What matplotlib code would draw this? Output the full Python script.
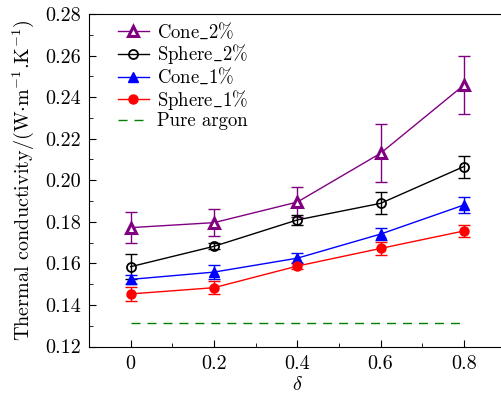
import matplotlib
matplotlib.use("Agg")
import matplotlib.pyplot as plt
from matplotlib.ticker import MultipleLocator, FormatStrFormatter

plt.rcParams["font.family"] = ["cmr10", "DejaVu Serif"]
plt.rcParams["mathtext.fontset"] = "cm"
plt.rcParams["axes.formatter.use_mathtext"] = True

delta = [0, 0.2, 0.4, 0.6, 0.8]

cone2 = [0.1772, 0.1796, 0.1895, 0.2130, 0.2458]
cone2_err = [0.0074, 0.0066, 0.0071, 0.0140, 0.0141]
sphere2 = [0.1584, 0.1682, 0.1809, 0.1889, 0.2066]
sphere2_err = [0.0060, 0.0015, 0.0023, 0.0053, 0.0053]
cone1 = [0.1523, 0.1558, 0.1625, 0.1741, 0.1881]
cone1_err = [0.0020, 0.0033, 0.0024, 0.0030, 0.0037]
sphere1 = [0.1453, 0.1483, 0.1587, 0.1672, 0.1756]
sphere1_err = [0.0033, 0.0030, 0.0015, 0.0033, 0.0030]
argon = [0.1311] * 5

labels = [r"Cone$\_$2%", r"Sphere$\_$2%", r"Cone$\_$1%", r"Sphere$\_$1%", "Pure argon"]

fig = plt.figure(figsize=(5.02, 3.99), dpi=100)
ax = fig.add_axes([89 / 502, 1 - 346.5 / 399, (505.6 - 89) / 502, (346.5 - 14) / 399])

eb = dict(capsize=4.5, elinewidth=1.0, capthick=1.0, lw=1.0)
h1 = ax.errorbar(delta, cone2, yerr=cone2_err, color="purple", marker="^", ms=6.5,
                 mfc="white", mec="purple", mew=2.2, **eb)
h2 = ax.errorbar(delta, sphere2, yerr=sphere2_err, color="black", marker="o", ms=6.5,
                 mfc="none", mec="black", mew=1.3, **eb)
h3 = ax.errorbar(delta, cone1, yerr=cone1_err, color="blue", marker="^", ms=7, **eb)
h4 = ax.errorbar(delta, sphere1, yerr=sphere1_err, color="red", marker="o", ms=6.5, **eb)
h5, = ax.plot(delta, argon, color="green", ls=(0, (6.5, 5)), lw=1.0)
for h in (h1, h2, h3, h4):
    for cap in h[1]:
        cap.set_markeredgewidth(1.0)

ax.set_xlim(-0.1, 0.9)
ax.set_ylim(0.12, 0.28)
ax.xaxis.set_minor_locator(MultipleLocator(0.1))
ax.yaxis.set_major_locator(MultipleLocator(0.02))
ax.yaxis.set_minor_locator(MultipleLocator(0.01))
ax.set_xticks(delta)
ax.set_xticklabels(["0", "0.2", "0.4", "0.6", "0.8"])
ax.yaxis.set_major_formatter(FormatStrFormatter("%.2f"))
ax.tick_params(which="both", direction="in", labelsize=14.5)
ax.tick_params(which="major", length=5, pad=6)
ax.tick_params(which="minor", length=3)
ax.spines["right"].set_visible(False)

ax.set_xlabel(r"$\delta$", fontsize=14.5, labelpad=2)
ax.set_ylabel(r"Thermal conductivity/(W$\cdot$m$^{-1}$.K$^{-1}$)", fontsize=14.5, labelpad=6)

ax.legend([h1[0], h2[0], h3[0], h4[0], h5], labels, loc="upper left",
          bbox_to_anchor=(0.0696, 0.978), frameon=False, fontsize=13.5,
          handlelength=1.65, labelspacing=0.03, borderaxespad=0, borderpad=0,
          handletextpad=0.43)

fig.savefig("out.png", dpi=100)
